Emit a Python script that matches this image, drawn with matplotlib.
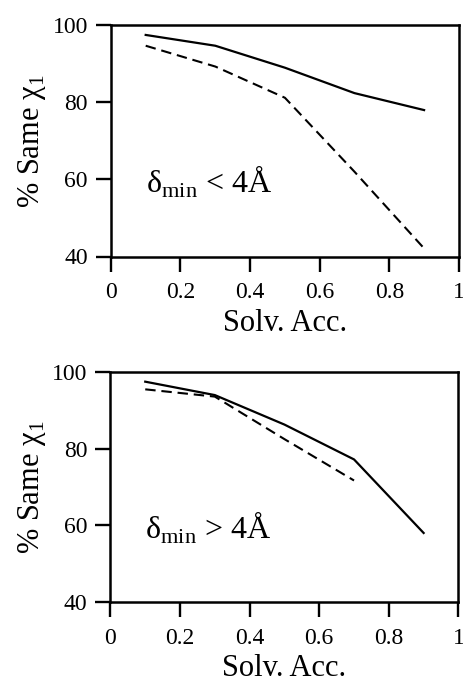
import matplotlib
matplotlib.use('Agg')
import matplotlib.pyplot as plt

# solvent accessibility bins
solv_acc = [0.1, 0.3, 0.5, 0.7, 0.9]

# delta_min < 4A panel
top_solid = [97.5, 94.7, 89.0, 82.4, 78.0]
top_dashed = [94.7, 89.3, 81.2, 62.0, 42.1]

# delta_min > 4A panel
bot_solid = [97.5, 94.0, 86.3, 77.2, 58.0]
bot_dashed_x = [0.1, 0.3, 0.5, 0.7]
bot_dashed = [95.5, 93.6, 82.5, 71.7]

xticks = [0, 0.2, 0.4, 0.6, 0.8, 1]
xticklabels = ['0', '0.2', '0.4', '0.6', '0.8', '1']
yticks = [40, 60, 80, 100]

plt.rcParams['font.family'] = ['Liberation Serif', 'DejaVu Serif']
plt.rcParams['mathtext.fontset'] = 'custom'
plt.rcParams['mathtext.rm'] = 'Liberation Serif'


def style_axes(ax, label):
    ax.set_xlim(0, 1)
    ax.set_ylim(40, 100)
    ax.set_xticks(xticks)
    ax.set_xticklabels(xticklabels)
    ax.set_yticks(yticks)
    ax.tick_params(direction='out', length=10.5, width=1.7, labelsize=17)
    ax.tick_params(axis='x', pad=8)
    ax.tick_params(axis='y', pad=6)
    for s in ax.spines.values():
        s.set_linewidth(1.8)
    ax.set_xlabel('Solv. Acc.', fontsize=22, labelpad=4)
    ax.set_ylabel('% Same χ$_{\\rm 1}$', fontsize=22, labelpad=3)
    ax.text(0.1, 56.5, label, fontsize=23)


fig = plt.figure(figsize=(4.64, 6.84), dpi=100)
ax1 = fig.add_axes([0.239, 0.625, 0.750, 0.338])
ax2 = fig.add_axes([0.238, 0.120, 0.750, 0.336])

ax1.plot(solv_acc, top_solid, color='black', lw=1.6)
ax1.plot(solv_acc, top_dashed, color='black', lw=1.5, linestyle=(0, (5, 2.8)))
style_axes(ax1, 'δ$_{\\rm min}$ < 4Å')

ax2.plot(solv_acc, bot_solid, color='black', lw=1.6)
ax2.plot(bot_dashed_x, bot_dashed, color='black', lw=1.5, linestyle=(0, (5, 2.8)))
style_axes(ax2, 'δ$_{\\rm min}$ > 4Å')

fig.savefig('out.png', dpi=100)
